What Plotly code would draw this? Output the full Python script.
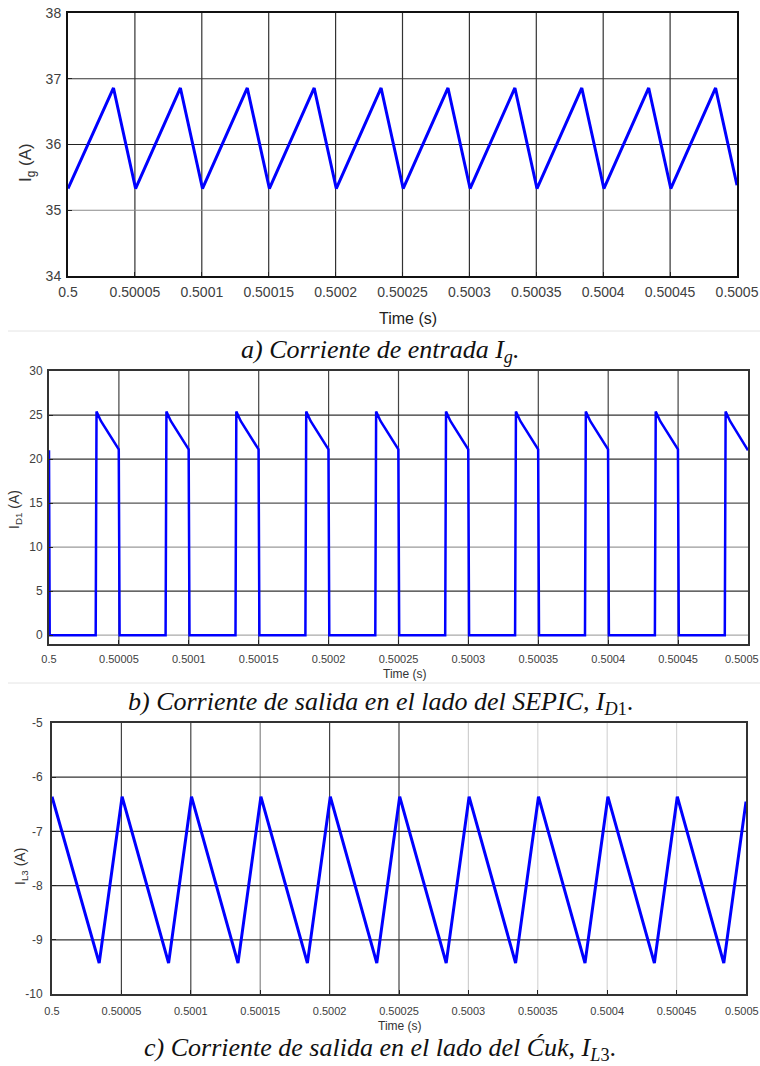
import plotly.graph_objects as go

# ---------------- data ----------------
x_tick_vals = [0.5, 0.50005, 0.5001, 0.50015, 0.5002, 0.50025,
               0.5003, 0.50035, 0.5004, 0.50045, 0.5005]
x_tick_text = ["0.5", "0.50005", "0.5001", "0.50015", "0.5002", "0.50025",
               "0.5003", "0.50035", "0.5004", "0.50045", "0.5005"]

# a) input current Ig
ig_time = [0.5,
           0.500034, 0.5000505, 0.500084, 0.5001005, 0.500134, 0.5001505,
           0.500184, 0.5002005, 0.500234, 0.5002505, 0.500284, 0.5003005,
           0.500334, 0.5003505, 0.500384, 0.5004005, 0.500434, 0.5004505,
           0.500484, 0.5005]
ig_val = [35.33,
          36.86, 35.33, 36.86, 35.33, 36.86, 35.33,
          36.86, 35.33, 36.86, 35.33, 36.86, 35.33,
          36.86, 35.33, 36.86, 35.33, 36.86, 35.33,
          36.86, 35.38]
ig_ticks = [34, 35, 36, 37, 38]
ig_tick_text = ["34", "35", "36", "37", "38"]

# b) SEPIC side output current ID1
id1_time = [0.5, 0.5000005,
            0.5000334, 0.500034, 0.5000372, 0.5000499, 0.5000505,
            0.5000834, 0.500084, 0.5000872, 0.5000999, 0.5001005,
            0.5001334, 0.500134, 0.5001372, 0.5001499, 0.5001505,
            0.5001834, 0.500184, 0.5001872, 0.5001999, 0.5002005,
            0.5002334, 0.500234, 0.5002372, 0.5002499, 0.5002505,
            0.5002834, 0.500284, 0.5002872, 0.5002999, 0.5003005,
            0.5003334, 0.500334, 0.5003372, 0.5003499, 0.5003505,
            0.5003834, 0.500384, 0.5003872, 0.5003999, 0.5004005,
            0.5004334, 0.500434, 0.5004372, 0.5004499, 0.5004505,
            0.5004834, 0.500484, 0.5004872, 0.5005]
id1_val = [21.0, 0.0,
           0.0, 25.4, 24.3, 21.1, 0.0,
           0.0, 25.4, 24.3, 21.1, 0.0,
           0.0, 25.4, 24.3, 21.1, 0.0,
           0.0, 25.4, 24.3, 21.1, 0.0,
           0.0, 25.4, 24.3, 21.1, 0.0,
           0.0, 25.4, 24.3, 21.1, 0.0,
           0.0, 25.4, 24.3, 21.1, 0.0,
           0.0, 25.4, 24.3, 21.1, 0.0,
           0.0, 25.4, 24.3, 21.1, 0.0,
           0.0, 25.4, 24.3, 21.0]
id1_ticks = [0, 5, 10, 15, 20, 25, 30]
id1_tick_text = ["0", "5", "10", "15", "20", "25", "30"]

# c) Cuk side output current IL3
il3_time = [0.5,
            0.500034, 0.5000505, 0.500084, 0.5001005, 0.500134, 0.5001505,
            0.500184, 0.5002005, 0.500234, 0.5002505, 0.500284, 0.5003005,
            0.500334, 0.5003505, 0.500384, 0.5004005, 0.500434, 0.5004505,
            0.500484, 0.5005]
il3_val = [-6.36,
           -9.43, -6.36, -9.43, -6.36, -9.43, -6.36,
           -9.43, -6.36, -9.43, -6.36, -9.43, -6.36,
           -9.43, -6.36, -9.43, -6.36, -9.43, -6.36,
           -9.43, -6.45]
il3_ticks = [-10, -9, -8, -7, -6, -5]
il3_tick_text = ["-10", "-9", "-8", "-7", "-6", "-5"]

captions = [
    "<i>a) Corriente de entrada I<sub>g</sub>.</i>",
    "<i>b) Corriente de salida en el lado del SEPIC, I</i><sub><i>D</i>1</sub>.",
    "<i>c) Corriente de salida en el lado del Ćuk, I</i><sub><i>L</i>3</sub>.",
]

# ---------------- layout helpers ----------------
W, H = 760, 1066


def fx(px):
    return px / W


def fy(px):
    return 1 - px / H


SANS = "Liberation Sans, Arial, sans-serif"
SERIF = "Liberation Serif, Times New Roman, serif"
BLUE = "#0000ff"
TICK_C = "#404040"

fig = go.Figure()

fig.add_trace(go.Scatter(x=ig_time, y=ig_val, mode="lines",
                         line=dict(color=BLUE, width=3),
                         xaxis="x", yaxis="y", showlegend=False))
fig.add_trace(go.Scatter(x=id1_time, y=id1_val, mode="lines",
                         line=dict(color=BLUE, width=2.5),
                         xaxis="x2", yaxis="y2", showlegend=False))
fig.add_trace(go.Scatter(x=il3_time, y=il3_val, mode="lines",
                         line=dict(color=BLUE, width=3),
                         xaxis="x3", yaxis="y3", showlegend=False))

# panel boxes in pixel coordinates: (left, right, top, bottom)
panels = {
    "": (68, 737, 13, 276),
    "2": (49, 748, 371, 644),
    "3": (52, 746, 723, 994),
}

# in the lower two panels the last time label sits flush with the page edge,
# so it is written separately (right-aligned) instead of centred on its tick
x_tick_text_edge = x_tick_text[:-1] + [""]


def xaxis_cfg(sfx, text, size, line_w, line_c, standoff):
    l, r, t, b = panels[sfx]
    return dict(domain=[fx(l), fx(r)], range=[0.5, 0.5005],
                tickvals=x_tick_vals, ticktext=text,
                tickfont=dict(family=SANS, size=size, color=TICK_C),
                ticks="inside", ticklen=4, tickcolor="#222",
                showline=True, mirror=True, linecolor=line_c, linewidth=line_w,
                showgrid=False, zeroline=False, ticklabelstandoff=standoff,
                ticklabeloverflow="allow",
                automargin=False, anchor="y" + sfx)


def yaxis_cfg(sfx, rng, ticks, text, size, line_w, line_c, standoff):
    l, r, t, b = panels[sfx]
    return dict(domain=[fy(b), fy(t)], range=rng, tickvals=ticks, ticktext=text,
                tickfont=dict(family=SANS, size=size, color=TICK_C),
                ticks="inside", ticklen=4, tickcolor="#222",
                showline=True, mirror=True, linecolor=line_c, linewidth=line_w,
                showgrid=False, zeroline=False, ticklabelstandoff=standoff,
                ticklabeloverflow="allow",
                automargin=False, anchor="x" + sfx)


fig.update_layout(
    width=W, height=H,
    margin=dict(l=0, r=0, t=0, b=0, autoexpand=False),
    paper_bgcolor="white", plot_bgcolor="white",
    xaxis=xaxis_cfg("", x_tick_text, 14, 2, "#111", 2),
    yaxis=yaxis_cfg("", [34, 38], ig_ticks, ig_tick_text, 14, 2, "#111", 2),
    xaxis2=xaxis_cfg("2", x_tick_text_edge, 11, 2, "#333", 4),
    yaxis2=yaxis_cfg("2", [-1, 30], id1_ticks, id1_tick_text, 12, 2, "#333", 2),
    xaxis3=xaxis_cfg("3", x_tick_text_edge, 11, 2, "#333", 6),
    yaxis3=yaxis_cfg("3", [-10, -5], il3_ticks, il3_tick_text, 12, 2, "#333", 5),
)

# grid lines, one per tick, with their individual shades
grid_shades = {
    "": (["#333"] * 9, {35: "#8a8a8a", 36: "#222", 37: "#333"}),
    "2": (["#444"] * 9, {5: "#333", 10: "#9a9a9a", 15: "#555", 20: "#333", 25: "#333"}),
    "3": (["#444", "#444", "#888", "#444", "#444", "#cfcfcf", "#d6d6d6", "#d6d6d6", "#d6d6d6"],
          {-9: "#333", -8: "#333", -7: "#333", -6: "#333"}),
}
for sfx, (vcols, hcols) in grid_shades.items():
    for xv, col in zip(x_tick_vals[1:-1], vcols):
        fig.add_shape(type="line", xref="x" + sfx, yref="y" + sfx + " domain",
                      x0=xv, x1=xv, y0=0, y1=1, layer="below",
                      line=dict(color=col, width=1.2))
    for yv, col in hcols.items():
        fig.add_shape(type="line", xref="x" + sfx + " domain", yref="y" + sfx,
                      x0=0, x1=1, y0=yv, y1=yv, layer="below",
                      line=dict(color=col, width=1.2))

# zero level grid line in panel b
fig.add_shape(type="line", xref="x2 domain", yref="y2", x0=0, x1=1, y0=0, y1=0,
              layer="below", line=dict(color="#aaaaaa", width=1.2))

# separators between panels
for ypix in (331, 683):
    fig.add_shape(type="line", xref="paper", yref="paper",
                  x0=fx(8), x1=1, y0=fy(ypix), y1=fy(ypix),
                  line=dict(color="#e4e4e4", width=1))

ann = []
# last time label of panels b and c, right-aligned at the page edge
for ypix in (659, 1011):
    ann.append(dict(text=x_tick_text[-1], x=1.0, y=fy(ypix), xanchor="right",
                    font=dict(family=SANS, size=11, color=TICK_C)))
# axis titles
ann.append(dict(text="I<sub>g</sub> (A)", x=fx(27), y=fy(163), textangle=-90,
                font=dict(family=SANS, size=17, color="#333")))
ann.append(dict(text="I<sub>D1</sub> (A)", x=fx(15), y=fy(510), textangle=-90,
                font=dict(family=SANS, size=14, color="#333")))
ann.append(dict(text="I<sub>L3</sub> (A)", x=fx(21), y=fy(867), textangle=-90,
                font=dict(family=SANS, size=14, color="#333")))
ann.append(dict(text="Time (s)", x=fx(408), y=fy(318),
                font=dict(family=SANS, size=16, color="#222")))
ann.append(dict(text="Time (s)", x=fx(405), y=fy(674),
                font=dict(family=SANS, size=12, color="#333")))
ann.append(dict(text="Time (s)", x=fx(400), y=fy(1026),
                font=dict(family=SANS, size=12, color="#333")))
# captions
for txt, ypix in zip(captions, (351, 703, 1049)):
    ann.append(dict(text=txt, x=0.5, y=fy(ypix),
                    font=dict(family=SERIF, size=26, color="#111")))

for a in ann:
    a.setdefault("xanchor", "center")
    a.update(xref="paper", yref="paper", showarrow=False, yanchor="middle",
             borderpad=0)
fig.update_layout(annotations=ann)

fig.write_html("out.html")
